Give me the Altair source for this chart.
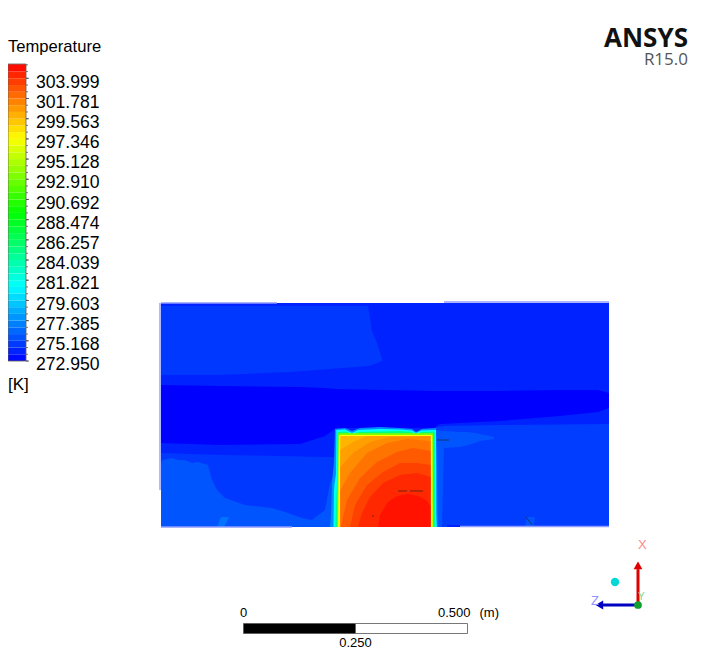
import altair as alt
import pandas as pd

# Colour ramp of the temperature legend [K]
ramp_temps = [272.95, 281.10, 289.26, 297.41, 305.57]
ramp_colors = ["#0000ff", "#00ffff", "#00ff00", "#ffff00", "#ff0000"]

# Legend labels and band edges
label_temps = [303.999, 301.781, 299.563, 297.346, 295.128, 292.910, 290.692, 288.474,
               286.257, 284.039, 281.821, 279.603, 277.385, 275.168, 272.950]
band_edges = [272.950, 273.689, 274.428, 275.168, 275.907, 276.646, 277.385, 278.124, 278.864,
              279.603, 280.342, 281.081, 281.821, 282.560, 283.299, 284.039, 284.778, 285.517,
              286.257, 286.996, 287.735, 288.474, 289.213, 289.953, 290.692, 291.431, 292.171,
              292.910, 293.649, 294.389, 295.128, 295.867, 296.607, 297.346, 298.085, 298.824,
              299.563, 300.302, 301.042, 301.781, 302.520, 303.260, 303.999, 304.738, 305.477,
              305.570]

# Isotherm regions of the field, in mesh units (448 units = 1 m), painted in this order:
# name, temperature, positions, upper edge, lower edge
regions = [
    ("base", 274.04, [0, 448], [224, 224], [0, 0]),
    ("upper_left", 274.74, [0, 57, 130, 207, 211, 216, 221],
     [221, 221, 221, 221, 196, 184, 168], [152, 152, 155, 161, 162, 164, 166]),
    ("lower_right", 274.90, [273, 283, 340, 448], [99, 101, 102, 103], [0, 0, 0, 0]),
    ("dark_band", 272.95, [0, 59, 139, 164, 175, 273, 279, 339, 399, 437, 448],
     [142, 141, 140, 139, 138, 136, 136, 136, 137, 137, 134],
     [84, 82, 83, 91, 99, 99, 103, 106, 111, 115, 119]),
    ("lower_left_mid", 274.74, [0, 60, 120, 165, 175], [74, 72, 71, 70, 70], [0, 0, 0, 0, 0]),
    ("lower_left_light", 275.67,
     [0, 2, 11, 17, 24, 31, 37, 47, 51, 56, 64, 84, 111, 124, 141, 151, 164, 169, 175],
     [65, 67, 69, 67, 67, 64, 65, 62, 47, 37, 29, 22, 19, 15, 9, 7, 17, 44, 57],
     [0] * 19),
    ("left_spot", 276.63, [56, 60, 63, 68], [0, 10, 10, 10], [0, 0, 0, 10]),
    ("right_wedge", 275.67, [275, 281, 283, 299, 307, 314, 319, 333],
     [97, 96, 96, 95, 95, 94, 93, 90], [0, 0, 79, 80, 82, 84, 86, 88]),
    ("right_spot", 275.67, [364, 366, 372, 374], [0, 10, 10, 10], [0, 0, 0, 9]),
    ("bottom_dark", 274.04, [286, 299], [2, 2], [0, 0]),
    ("edge_blue", 277.50, [169, 170, 171, 173, 174, 184, 191, 199, 219, 239, 251, 255, 261, 275, 276, 276.5],
     [0, 12, 45, 65, 98, 99, 96, 99, 100, 99, 98, 95, 98, 99, 57, 0], [0] * 16),
    ("edge_cyan", 281.10, [172.5, 173, 173.5, 175, 175.3, 184, 191, 197, 219, 239, 251, 255, 260, 275, 275.2, 275.8],
     [0, 37, 43, 53, 97, 97.5, 94, 97, 98, 97.5, 96.5, 94, 96.5, 97, 12, 0], [0] * 16),
    ("edge_green", 285.20, [174.5, 175, 176, 176.5, 185, 191, 197, 239, 251, 255, 260, 273.6, 273.9],
     [0, 22, 47, 95, 95.5, 93, 95, 96, 95, 92.5, 95, 95.5, 0], [0] * 13),
    ("edge_lime", 293.30, [176, 177.3, 272, 272.2], [0, 93.7, 93.7, 0], [0] * 4),
    ("edge_yellow", 297.41, [177, 178, 271.2, 271.4], [0, 92, 92, 0], [0] * 4),
    ("box_base", 299.81, [178.7, 179.3, 269.5, 269.7], [0, 91, 91, 0], [0] * 4),
    ("ring_7", 300.45, [179.3, 192, 206, 269.5], [77, 85, 91, 91], [0] * 4),
    ("ring_6", 301.09, [179.3, 192, 209, 229, 269.5], [60, 74, 85, 90, 91], [0] * 5),
    ("ring_5", 301.89, [179.3, 189, 206, 226, 246, 269.5], [37, 54, 74, 84, 88, 86], [0] * 6),
    ("ring_4", 302.69, [180, 182, 186, 199, 216, 236, 252, 269.5], [0, 10, 27, 49, 65, 75, 79, 76], [0] * 8),
    ("ring_3", 303.49, [189, 194, 206, 222, 239, 256, 269.5], [0, 22, 42, 55, 64, 64, 62], [0] * 7),
    ("ring_2", 304.29, [197, 201, 209, 222, 239, 256, 269.5], [0, 14, 30, 44, 52, 54, 50], [0] * 7),
    ("ring_1", 305.00, [217, 219, 227, 236, 247, 257, 265, 269.5], [0, 12, 25, 31, 33, 31, 27, 21], [0] * 8),
]

# Thin mesh lines: x0, x1, y0, y1 in mesh units
edge_light = [(0, 116, 224, 224), (283, 448, 225, 225), (0, 131, 0, 0), (299, 448, 0.5, 0.5), (-1, -1, 37, 224)]
edge_dark = [(237, 246, 36, 36), (249, 262, 36, 36), (211, 213, 11, 11), (276, 288, 87, 87), (365, 371, 10, 2)]

# Length scale [m]
scale_from = [0.0, 0.25]
scale_to = [0.25, 0.5]
scale_fill = ["#000000", "#ffffff"]

# Orientation triad, in model units
triad_rows = [("X", 0, 0, 0, 0.78, "#e00000"), ("Z", 0, 0, -0.76, 0, "#0000c0")]

FONT = "Liberation Sans"
W, H = 695, 653

color_scale = alt.Scale(domain=ramp_temps, range=ramp_colors, interpolate="rgb")
fx = alt.Scale(domain=[0, 448], range=[153, 601])
fy = alt.Scale(domain=[0, 224], range=[519, 295])
bar_y = alt.Scale(domain=[272.95, 305.57], range=[353, 56])
bar_x = alt.Scale(domain=[0, 1], range=[0, 18])
sb_x = alt.Scale(domain=[0, 0.5], range=[235.5, 459.5])
tri_x = alt.Scale(domain=[-1, 1], range=[584, 676])
tri_y = alt.Scale(domain=[-1, 1], range=[643, 551])


def xq(f, sc, **kw):
    return alt.X(f, type="quantitative", scale=sc, axis=None, **kw)


def yq(f, sc, **kw):
    return alt.Y(f, type="quantitative", scale=sc, axis=None, **kw)


def region_layer(name, temp, xs, tops, lows):
    df = pd.DataFrame({"u": xs, "vtop": tops, "vlow": lows, "temp": [temp] * len(xs), "region": [name] * len(xs)})
    return alt.Chart(df).mark_area(interpolate="linear").encode(
        x=xq("u", fx),
        y=yq("vtop", fy),
        y2=alt.Y2("vlow"),
        color=alt.Color("temp:Q", scale=color_scale, legend=None),
    )


field_layers = [region_layer(*r) for r in regions]


def segs(data, color, width, opacity=1.0):
    df = pd.DataFrame(data, columns=["x0", "x1", "y0", "y1"])
    return alt.Chart(df).mark_rule(color=color, strokeWidth=width, opacity=opacity).encode(
        x=xq("x0", fx), x2="x1", y=yq("y0", fy), y2="y1"
    )


light = segs(edge_light, "#8f9dff", 1.4)
dark = segs(edge_dark, "#222222", 1, 0.65)

bands = pd.DataFrame({"t0": band_edges[:-1], "t1": band_edges[1:]})
bands["mid"] = (bands.t0 + bands.t1) / 2
bands["a"] = 0
bands["b"] = 1
bar = alt.Chart(bands).mark_rect(strokeWidth=0).encode(
    x=xq("a", bar_x), x2="b",
    y=yq("t0", bar_y), y2="t1",
    color=alt.Color("mid:Q", scale=color_scale, legend=None),
)
frame = alt.Chart(pd.DataFrame({"a": [0], "b": [1], "t0": [272.95], "t1": [305.57]})).mark_rect(
    fillOpacity=0, stroke="#6a5a50", strokeWidth=0.8).encode(
    x=xq("a", bar_x), x2="b", y=yq("t0", bar_y), y2="t1")
ticks = alt.Chart(bands).mark_rule(color="#444444", strokeWidth=0.7).encode(
    x=alt.value(18), x2=alt.value(20), y=yq("t0", bar_y))

labels_df = pd.DataFrame({"t": label_temps, "txt": [f"{v:.3f}" for v in label_temps]})
bar_labels = alt.Chart(labels_df).mark_text(
    font=FONT, fontSize=17.6, align="left", baseline="middle", dy=4.2, color="#000000"
).encode(x=alt.value(28), y=yq("t", bar_y), text="txt:N")
label_ticks = alt.Chart(labels_df).mark_rule(color="#444444", strokeWidth=0.8).encode(
    x=alt.value(18), x2=alt.value(21), y=yq("t", bar_y))

sb_df = pd.DataFrame({"a": scale_from, "b": scale_to, "fill": scale_fill})
sbar = alt.Chart(sb_df).mark_rect(stroke="#555555", strokeWidth=0.8).encode(
    x=xq("a", sb_x), x2="b",
    y=alt.value(615.5), y2=alt.value(625.5),
    fill=alt.Fill("fill:N", scale=None),
)


def sb_text(value, txt, py, align="center", dx=0):
    return alt.Chart(pd.DataFrame({"v": [value], "txt": [txt]})).mark_text(
        font=FONT, fontSize=13, align=align, baseline="middle", dx=dx, color="#000000"
    ).encode(x=xq("v", sb_x), y=alt.value(py), text="txt:N")


def note(txt, px, py, size, color="#000000", font=FONT, weight="normal", align="left", baseline="middle"):
    return alt.Chart(pd.DataFrame({"txt": [txt]})).mark_text(
        font=font, fontSize=size, fontWeight=weight, align=align, baseline=baseline, color=color
    ).encode(x=alt.value(px), y=alt.value(py), text="txt:N")


tri_df = pd.DataFrame(triad_rows, columns=["axis", "x0", "y0", "x1", "y1", "color"])
shafts = alt.Chart(tri_df).mark_rule(strokeWidth=3).encode(
    x=xq("x0", tri_x), x2="x1", y=yq("y0", tri_y), y2="y1",
    color=alt.Color("color:N", scale=None),
)
head_x = alt.Chart(pd.DataFrame({"x": [0], "y": [0.86]})).mark_point(
    shape="triangle-up", filled=True, size=78, color="#e00000", opacity=1
).encode(x=xq("x", tri_x), y=yq("y", tri_y))
head_z = alt.Chart(pd.DataFrame({"x": [-0.84], "y": [0]})).mark_point(
    shape="triangle-left", filled=True, size=78, color="#0000c0", opacity=1
).encode(x=xq("x", tri_x), y=yq("y", tri_y))
origin = alt.Chart(pd.DataFrame({"x": [0], "y": [0.0]})).mark_point(
    shape="circle", filled=True, size=60, color="#10a030", opacity=1
).encode(x=xq("x", tri_x), y=yq("y", tri_y))
sphere = alt.Chart(pd.DataFrame({"x": [-0.5], "y": [0.5]})).mark_point(
    shape="circle", filled=True, size=70, color="#00d8d8", opacity=1
).encode(x=xq("x", tri_x), y=yq("y", tri_y))

chart = alt.layer(
    *field_layers, light, dark,
    bar, frame, ticks, label_ticks, bar_labels,
    sbar,
    sb_text(0.0, "0", 605),
    sb_text(0.5, "0.500", 605, align="right", dx=3),
    sb_text(0.5, "(m)", 605, align="left", dx=12),
    sb_text(0.25, "0.250", 635),
    shafts, head_x, head_z, origin, sphere,
    note("Temperature", 0, 38.5, 16.6),
    note("[K]", 0, 376.5, 17),
    note("ANSYS", 680, 39, 26, color="#111111", font="Open Sans", weight="bold", align="right", baseline="alphabetic"),
    note("R15.0", 680, 57, 17, color="#555555", font="Open Sans", align="right", baseline="alphabetic"),
    note("X", 630, 537, 13, color="#ff8a8a"),
    note("Z", 583, 593, 13, color="#9090ff"),
    note("Y", 630, 589, 10, color="#7fd67f"),
).resolve_scale(x="independent", y="independent").properties(
    width=W, height=H, padding=0, autosize=alt.AutoSizeParams(type="none"), background="#ffffff"
).configure_view(stroke=None)

chart.save("out.html", embed_options={"renderer": "svg", "actions": False})
